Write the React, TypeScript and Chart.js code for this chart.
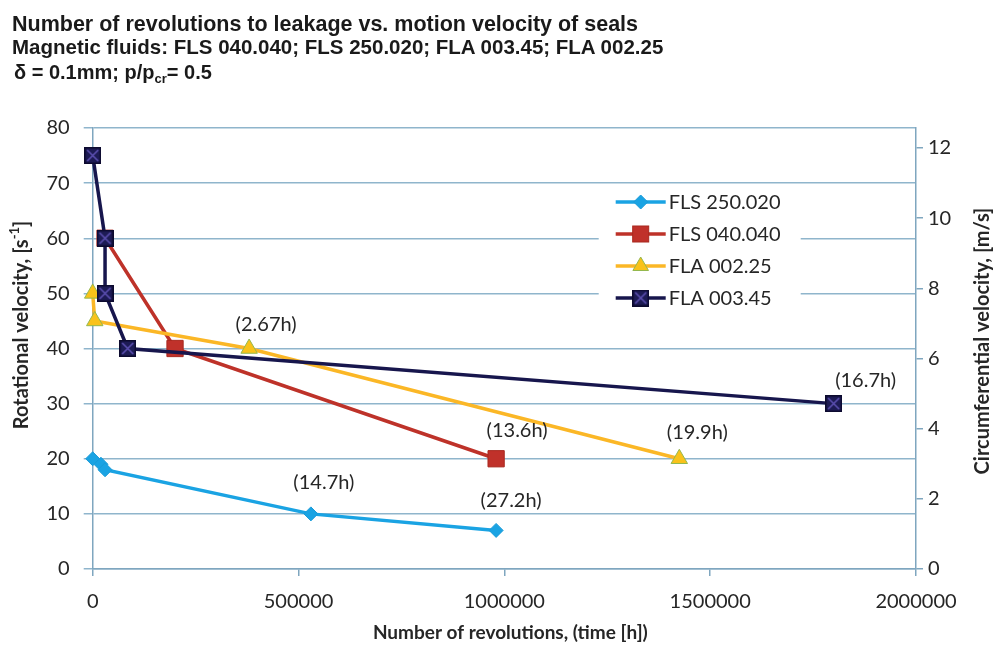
import React, { useEffect, useRef } from "react";
import { Chart, registerables } from "chart.js";

Chart.register(...registerables);

// ---------- data ----------
const seriesNames = ["FLS 250.020", "FLS 040.040", "FLA 002.25", "FLA 003.45"];
const fls250Rev = [0, 20000, 30000, 530000, 980000];
const fls250Vel = [20, 19, 18, 10, 7];
const fls040Rev = [30000, 200000, 980000];
const fls040Vel = [60, 40, 20];
const fla002Rev = [0, 5000, 380000, 1425000];
const fla002Vel = [50, 45, 40, 20];
const fla003Rev = [0, 30000, 30000, 85000, 1800000];
const fla003Vel = [75, 60, 50, 40, 30];

const xTickValues = [0, 500000, 1000000, 1500000, 2000000];
const leftTickValues = [0, 10, 20, 30, 40, 50, 60, 70, 80];
const rightTickValues = [0, 2, 4, 6, 8, 10, 12];
// circumferential velocity at 80 s^-1 for a 50 mm shaft
const rightAxisMax = 80 * Math.PI * 0.05;

// time-to-leakage labels attached to data points: [series, point]
const annotationTexts = ["(14.7h)", "(27.2h)", "(13.6h)", "(2.67h)", "(19.9h)", "(16.7h)"];
const annotationSeries = [0, 0, 1, 2, 2, 3];
const annotationPoints = [3, 4, 2, 2, 3, 4];

// ---------- styles ----------
const annotationOffsets = [
  [13, -31],
  [15, -30],
  [21, -28],
  [17, -24],
  [18, -26],
  [32, -23],
];
const gridColor = "#8fb5cc";
const axisColor = "#7fa6bf";
const textColor = "#262626";
const tickFont = { family: "Lato", size: 20 };
const titleFontFamily = "Lato";

const lineColors = ["#1aa3e3", "#be3229", "#fbb726", "#17164d"];
const markerFills = ["#1aa3e3", "#c0312a", "#f9c21a", "#1d1b55"];
const markerBorders = ["#1a9bd8", "#a8281f", "#94b84e", "#0f0d35"];

function makeCrossSquare(size: number): HTMLCanvasElement {
  const c = document.createElement("canvas");
  c.width = size;
  c.height = size;
  const g = c.getContext("2d")!;
  g.fillStyle = "#1d1b55";
  g.fillRect(0, 0, size, size);
  g.strokeStyle = "#0c0a2e";
  g.lineWidth = 1.5;
  g.strokeRect(0.75, 0.75, size - 1.5, size - 1.5);
  g.strokeStyle = "#5b4fb0";
  g.lineWidth = 1.6;
  g.beginPath();
  g.moveTo(3, 3);
  g.lineTo(size - 3, size - 3);
  g.moveTo(size - 3, 3);
  g.lineTo(3, size - 3);
  g.stroke();
  return c;
}

function drawMarker(ctx: CanvasRenderingContext2D, idx: number, x: number, y: number, img: HTMLCanvasElement) {
  ctx.save();
  ctx.fillStyle = markerFills[idx];
  ctx.strokeStyle = markerBorders[idx];
  ctx.lineWidth = 1;
  if (idx === 0) {
    const r = 7;
    ctx.beginPath();
    ctx.moveTo(x, y - r);
    ctx.lineTo(x + r, y);
    ctx.lineTo(x, y + r);
    ctx.lineTo(x - r, y);
    ctx.closePath();
    ctx.fill();
    ctx.stroke();
  } else if (idx === 1) {
    const s = 8;
    ctx.fillRect(x - s, y - s, 2 * s, 2 * s);
    ctx.strokeRect(x - s, y - s, 2 * s, 2 * s);
  } else if (idx === 2) {
    const r = 9;
    ctx.beginPath();
    ctx.moveTo(x, y - r);
    ctx.lineTo(x + r * 0.866, y + r * 0.5);
    ctx.lineTo(x - r * 0.866, y + r * 0.5);
    ctx.closePath();
    ctx.fill();
    ctx.stroke();
  } else {
    ctx.drawImage(img, x - img.width / 2, y - img.height / 2);
  }
  ctx.restore();
}

export default function App() {
  const canvasRef = useRef<HTMLCanvasElement | null>(null);

  useEffect(() => {
    const canvas = canvasRef.current;
    if (!canvas) return;
    const crossSquare = makeCrossSquare(17);

    const series = [
      [fls250Rev, fls250Vel],
      [fls040Rev, fls040Vel],
      [fla002Rev, fla002Vel],
      [fla003Rev, fla003Vel],
    ];
    const pointStyles: any[] = ["rectRot", "rect", "triangle", crossSquare];
    const pointRadii = [7, 11.5, 9.5, 9];
    const orders = [3, 2, 1, 0];

    const datasets = series.map(([xs, ys], i) => ({
      label: seriesNames[i],
      data: xs.map((x, j) => ({ x, y: ys[j] })),
      borderColor: lineColors[i],
      backgroundColor: markerFills[i],
      pointBackgroundColor: markerFills[i],
      pointBorderColor: markerBorders[i],
      pointBorderWidth: 1,
      pointStyle: pointStyles[i],
      pointRadius: pointRadii[i],
      pointHoverRadius: pointRadii[i],
      borderWidth: 3.5,
      tension: 0,
      clip: false as any,
      order: orders[i],
      yAxisID: "y",
    }));

    const annotationPlugin = {
      id: "timeLabels",
      afterDatasetsDraw(chart: any) {
        const ctx = chart.ctx as CanvasRenderingContext2D;
        ctx.save();
        ctx.font = `20px ${titleFontFamily}`;
        ctx.fillStyle = textColor;
        ctx.textAlign = "center";
        ctx.textBaseline = "middle";
        annotationTexts.forEach((t, k) => {
          const s = annotationSeries[k];
          const p = annotationPoints[k];
          const xs = series[s][0];
          const ys = series[s][1];
          const px = chart.scales.x.getPixelForValue(xs[p]);
          const py = chart.scales.y.getPixelForValue(ys[p]);
          ctx.fillText(t, px + annotationOffsets[k][0], py + annotationOffsets[k][1]);
        });
        ctx.restore();
      },
    };

    const legendPlugin = {
      id: "boxLegend",
      afterDraw(chart: any) {
        const ctx = chart.ctx as CanvasRenderingContext2D;
        const a = chart.chartArea;
        const bx = a.left + 506;
        const by = a.top + 57;
        ctx.save();
        ctx.fillStyle = "#ffffff";
        ctx.fillRect(bx, by, 202, 130);
        ctx.font = `20px ${titleFontFamily}`;
        ctx.textBaseline = "middle";
        ctx.textAlign = "left";
        seriesNames.forEach((name, i) => {
          const y = by + 17 + i * 32;
          const x0 = bx + 17;
          ctx.strokeStyle = lineColors[i];
          ctx.lineWidth = 3.5;
          ctx.beginPath();
          ctx.moveTo(x0, y);
          ctx.lineTo(x0 + 50, y);
          ctx.stroke();
          drawMarker(ctx, i, x0 + 25, y, crossSquare);
          ctx.fillStyle = textColor;
          ctx.fillText(name, x0 + 53, y + 1);
        });
        ctx.restore();
      },
    };

    const axisTitlePlugin = {
      id: "axisTitles",
      afterDraw(chart: any) {
        const ctx = chart.ctx as CanvasRenderingContext2D;
        const a = chart.chartArea;
        ctx.save();
        ctx.fillStyle = textColor;
        ctx.textBaseline = "middle";
        const bold = `bold 20px ${titleFontFamily}`;
        const small = `bold 13px ${titleFontFamily}`;
        // left title with superscript
        ctx.save();
        ctx.translate(22, a.top + 197);
        ctx.rotate(-Math.PI / 2);
        const p1 = "Rotational velocity, [s";
        const sup = "-1";
        const p2 = "]";
        ctx.font = bold;
        const w1 = ctx.measureText(p1).width;
        const w3 = ctx.measureText(p2).width;
        ctx.font = small;
        const w2 = ctx.measureText(sup).width;
        let x = -(w1 + w2 + w3) / 2;
        ctx.textAlign = "left";
        ctx.font = bold;
        ctx.fillText(p1, x, 0);
        x += w1;
        ctx.font = small;
        ctx.fillText(sup, x, -7);
        x += w2;
        ctx.font = bold;
        ctx.fillText(p2, x, 0);
        ctx.restore();
        // right title
        ctx.save();
        ctx.translate(983, a.top + 213);
        ctx.rotate(-Math.PI / 2);
        ctx.font = bold;
        ctx.textAlign = "center";
        ctx.fillText("Circumferential velocity, [m/s]", 0, 0);
        ctx.restore();
        // bottom title
        ctx.font = `bold 19px ${titleFontFamily}`;
        ctx.textAlign = "center";
        ctx.fillText("Number of revolutions, (time [h])", (a.left + a.right) / 2 + 6, 633);
        ctx.restore();
      },
    };

    const chart = new Chart(canvas, {
      type: "line",
      data: { datasets: datasets as any },
      options: {
        animation: false,
        responsive: true,
        maintainAspectRatio: false,
        layout: { padding: { top: 128, left: 0, right: 0, bottom: 0 } },
        plugins: {
          legend: { display: false },
          title: { display: false },
          tooltip: { enabled: false },
        },
        scales: {
          x: {
            type: "linear",
            min: 0,
            max: 2000000,
            afterBuildTicks: (s: any) => {
              s.ticks = xTickValues.map((v) => ({ value: v }));
            },
            afterFit: (s: any) => {
              s.height = 82;
            },
            ticks: {
              font: tickFont,
              color: textColor,
              padding: 14,
              maxRotation: 0,
              autoSkip: false,
              callback: (v: any) => String(v),
            },
            grid: { drawOnChartArea: false, drawTicks: true, tickLength: 7, color: axisColor, lineWidth: 1.5 },
            border: { color: axisColor, width: 1.5 },
          },
          y: {
            position: "left",
            min: 0,
            max: 80,
            afterBuildTicks: (s: any) => {
              s.ticks = leftTickValues.map((v) => ({ value: v }));
            },
            afterFit: (s: any) => {
              s.width = 92.7;
            },
            ticks: {
              font: tickFont,
              color: textColor,
              padding: 14,
              callback: (v: any) => String(v),
            },
            grid: { color: gridColor, lineWidth: 1.5, tickLength: 9, drawTicks: true },
            border: { color: axisColor, width: 1.5 },
          },
          y2: {
            position: "right",
            min: 0,
            max: rightAxisMax,
            afterBuildTicks: (s: any) => {
              s.ticks = rightTickValues.map((v) => ({ value: v }));
            },
            afterFit: (s: any) => {
              s.width = 78;
            },
            ticks: {
              font: tickFont,
              color: textColor,
              padding: 5,
              callback: (v: any) => String(v),
            },
            grid: { drawOnChartArea: false, drawTicks: true, tickLength: 7, color: axisColor, lineWidth: 1.5 },
            border: { color: axisColor, width: 1.5 },
          },
        },
      },
      plugins: [annotationPlugin, legendPlugin, axisTitlePlugin],
    });

    return () => chart.destroy();
  }, []);

  const titleBase: React.CSSProperties = {
    position: "absolute",
    left: 12,
    margin: 0,
    whiteSpace: "nowrap",
    fontFamily: "'Liberation Sans', Arial, sans-serif",
    color: "#1a1a1a",
    fontWeight: "bold",
  };

  return (
    <div style={{ position: "fixed", left: 0, top: 0, width: 994, height: 651, background: "#ffffff", overflow: "hidden" }}>
      <canvas ref={canvasRef} style={{ position: "absolute", left: 0, top: 0 }} />
      <div style={{ position: "absolute", left: 0, top: 0, width: 994, height: 651 }}>
        <div style={{ ...titleBase, top: 13, fontSize: 21.5, lineHeight: "22px" }}>
          Number of revolutions to leakage vs. motion velocity of seals
        </div>
        <div style={{ ...titleBase, top: 36, fontSize: 20.5, lineHeight: "21px" }}>
          Magnetic fluids: FLS 040.040; FLS 250.020; FLA 003.45; FLA 002.25
        </div>
        <div style={{ ...titleBase, left: 14, top: 62, fontSize: 20, lineHeight: "21px" }}>
          δ = 0.1mm; p/p<sub style={{ fontSize: 13, verticalAlign: "-4px" }}>cr</sub>= 0.5
        </div>
      </div>
    </div>
  );
}
